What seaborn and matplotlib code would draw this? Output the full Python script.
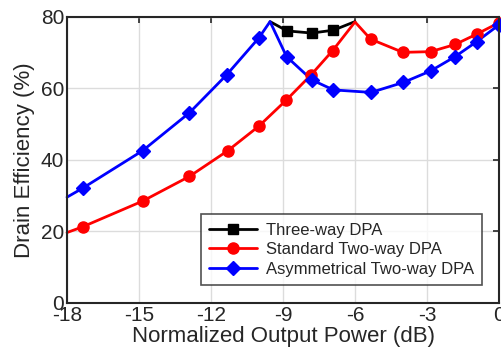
import matplotlib
matplotlib.use("Agg")
import matplotlib.pyplot as plt
from matplotlib.lines import Line2D
import seaborn as sns

# Data
three_line_x = [-9.54, -8.83, -7.8, -6.9, -6.0]
three_line_y = [78.7, 76.1, 75.5, 76.3, 78.7]
three_mark_x = [-8.83, -7.8, -6.9]
three_mark_y = [76.1, 75.5, 76.3]

std_line_x = [-18, -17.35, -14.85, -12.9, -11.3, -10.0, -8.87, -7.83, -6.93, -6.0,
              -5.35, -4.0, -2.85, -1.83, -0.93, 0]
std_line_y = [19.7, 21.3, 28.5, 35.4, 42.6, 49.5, 56.7, 63.8, 70.6, 78.6,
              73.8, 70.1, 70.3, 72.3, 75.2, 78.4]
std_mark_x = [-17.35, -14.85, -12.9, -11.3, -10.0, -8.87, -7.83, -6.93,
              -5.35, -4.0, -2.85, -1.83, -0.93, 0]
std_mark_y = [21.3, 28.5, 35.4, 42.6, 49.5, 56.7, 63.8, 70.6,
              73.8, 70.1, 70.3, 72.3, 75.2, 78.4]

asym_line_x = [-18, -17.35, -14.85, -12.9, -11.35, -10.0, -9.54, -8.85, -7.8, -6.9,
               -5.33, -3.98, -2.85, -1.83, -0.93, 0]
asym_line_y = [29.6, 32.1, 42.6, 53.2, 63.8, 74.2, 78.7, 68.9, 62.4, 59.6,
               58.9, 61.7, 64.9, 68.9, 73.1, 77.8]
asym_mark_x = [-17.35, -14.85, -12.9, -11.35, -10.0, -8.85, -7.8, -6.9,
               -5.33, -3.98, -2.85, -1.83, -0.93, 0]
asym_mark_y = [32.1, 42.6, 53.2, 63.8, 74.2, 68.9, 62.4, 59.6,
               58.9, 61.7, 64.9, 68.9, 73.1, 77.8]

labels = ["Three-way DPA", "Standard Two-way DPA", "Asymmetrical Two-way DPA"]
colors = ["#000000", "#ff0000", "#0000ff"]
markers = ["s", "o", "D"]
msizes = [7, 8, 7]
x_ticks = [-18, -15, -12, -9, -6, -3, 0]
y_ticks = [0, 20, 40, 60, 80]

sns.set_style("white")
plt.rcParams['font.family'] = ['Liberation Sans', 'DejaVu Sans']

fig = plt.figure(figsize=(5.02, 3.61), dpi=100)
ax = fig.add_axes([0.1335, 0.1607, 0.8605, 0.7923])

series = [
    (three_line_x, three_line_y, three_mark_x, three_mark_y),
    (std_line_x, std_line_y, std_mark_x, std_mark_y),
    (asym_line_x, asym_line_y, asym_mark_x, asym_mark_y),
]
handles = []
for (lx, ly, mx, my), lab, c, m, ms in zip(series, labels, colors, markers, msizes):
    sns.lineplot(x=lx, y=ly, sort=False, ax=ax, color=c, linewidth=2.0,
                 estimator=None, zorder=3, clip_on=False)
    ax.plot(mx, my, linestyle='none', marker=m, markersize=ms, color=c,
            markeredgecolor=c, zorder=4, clip_on=False)
    handles.append(Line2D([], [], color=c, linewidth=2.0, marker=m,
                          markersize=ms, markeredgecolor=c))

ax.set_xlim(-18, 0)
ax.set_ylim(0, 80)
ax.set_xticks(x_ticks)
ax.set_xticklabels([str(t) for t in x_ticks])
ax.set_yticks(y_ticks)
ax.grid(True, color='#dcdcdc', linewidth=1.0)
ax.set_axisbelow(True)
for s in ax.spines.values():
    s.set_color('#262626')
    s.set_linewidth(1.5)
    s.set_zorder(5)
ax.tick_params(direction='in', length=4, width=1.2, top=True, right=True,
               labelsize=15, colors='#262626', pad=2)
ax.set_xlabel("Normalized Output Power (dB)", fontsize=16, color='#262626', labelpad=1)
ax.set_ylabel("Drain Efficiency (%)", fontsize=16, color='#262626', labelpad=4)

leg = ax.legend(handles, labels, loc='lower right', bbox_to_anchor=(0.961, 0.062),
                borderaxespad=0, fontsize=12, frameon=True, fancybox=False,
                edgecolor='#262626', handlelength=2.9, borderpad=0.5,
                labelspacing=0.28, handletextpad=0.5)
leg.get_frame().set_linewidth(1.2)
leg.set_zorder(6)

fig.savefig("out.png", dpi=100)
